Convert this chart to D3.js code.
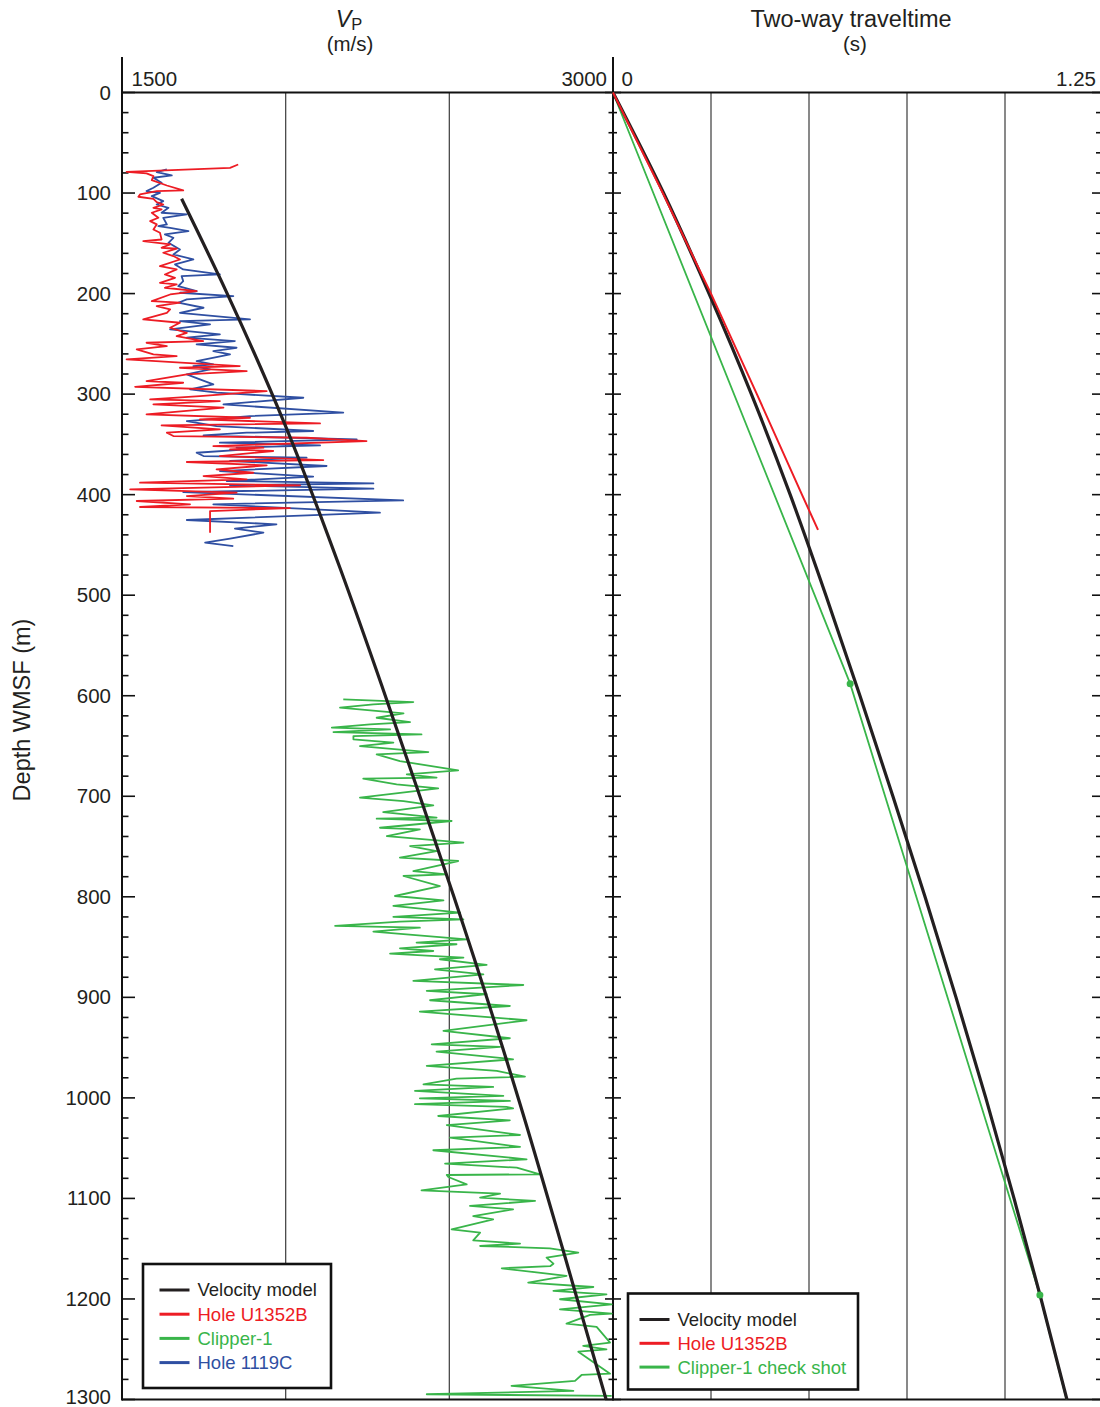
<!DOCTYPE html>
<html>
<head>
<meta charset="utf-8">
<script src="https://cdn.jsdelivr.net/npm/d3@7"></script>
<style>
  html, body { margin: 0; padding: 0; background: #fff; }
  svg { display: block; font-family: "Liberation Sans", Arial, Helvetica, sans-serif; }
</style>
</head>
<body>
<svg id="chart" width="1100" height="1407"></svg>
<script>
// ---- Data: depth (m WMSF) paired with P-wave velocity (m/s) ----
const velocityModel = [
  [105.7, 1682], [199, 1820], [332, 2000], [473, 2166], [594, 2298],
  [700, 2410], [800, 2514], [1006, 2716], [1152, 2848], [1300, 2979]
];

const holeU1352B = [
  [71.6, 1855], [74.9, 1830], [78.9, 1514], [80.5, 1575], [83.2, 1596], [87.2, 1591],
  [92.5, 1637], [97.4, 1687], [98.1, 1606], [101.4, 1555], [103.7, 1550], [105.7, 1596],
  [109.0, 1606], [111.4, 1626], [114.7, 1596], [116.3, 1621], [119.6, 1591], [124.6, 1611],
  [127.9, 1586], [131.2, 1606], [136.2, 1596], [139.5, 1616], [146.2, 1621], [147.8, 1565],
  [151.1, 1647], [154.4, 1621], [155.4, 1667], [159.4, 1626], [162.7, 1657], [166.1, 1677],
  [172.7, 1616], [176.0, 1667], [181.0, 1631], [184.3, 1662], [189.3, 1616], [190.9, 1667],
  [194.2, 1631], [197.5, 1728], [200.9, 1647], [207.5, 1591], [209.1, 1677], [212.5, 1606],
  [215.8, 1647], [219.1, 1637], [225.7, 1565], [229.0, 1677], [234.0, 1647], [239.0, 1698],
  [242.3, 1667], [247.2, 1748], [248.9, 1575], [252.2, 1637], [255.5, 1545], [260.5, 1596],
  [262.2, 1667], [265.5, 1514], [272.1, 1860], [273.8, 1677], [277.1, 1881], [280.4, 1698],
  [287.0, 1575], [288.7, 1687], [292.7, 1540], [297.0, 1942], [302.0, 1738], [305.3, 1586],
  [306.9, 1799], [310.2, 1596], [313.5, 1810], [320.2, 1575], [323.5, 1891], [325.1, 1738],
  [329.1, 2105], [331.1, 1621], [335.1, 1799], [338.4, 1637], [341.7, 1657], [343.4, 2064],
  [346.7, 2247], [351.7, 1779], [353.3, 1932], [355.0, 1830], [356.6, 1962], [361.6, 1799],
  [365.6, 2115], [367.5, 1698], [370.9, 1942], [374.8, 1789], [378.2, 1901], [381.5, 1749],
  [384.8, 1881], [388.1, 1555], [390.7, 2044], [394.7, 1525], [398.0, 1850], [401.4, 1698],
  [404.0, 1840], [406.3, 1545], [409.6, 1708], [412.3, 1555], [413.3, 2013], [416.3, 1769],
  [437.8, 1769]
];

const hole1119C = [
  [76.5, 1637], [79.2, 1606], [82.5, 1652], [84.8, 1596], [89.8, 1621], [94.8, 1596],
  [98.1, 1575], [99.8, 1616], [103.1, 1591], [108.0, 1626], [111.4, 1606], [114.7, 1642],
  [119.6, 1621], [121.3, 1698], [124.6, 1626], [131.2, 1637], [132.9, 1611], [134.6, 1647],
  [137.9, 1703], [141.2, 1631], [144.5, 1657], [149.5, 1642], [156.1, 1677], [161.1, 1657],
  [166.1, 1718], [171.0, 1662], [176.0, 1687], [181.0, 1799], [182.6, 1682], [187.6, 1687],
  [192.6, 1672], [197.5, 1728], [199.2, 1677], [202.5, 1840], [205.8, 1698], [209.1, 1672],
  [214.1, 1749], [219.1, 1677], [225.7, 1891], [227.4, 1677], [230.7, 1769], [235.6, 1647],
  [240.6, 1799], [243.9, 1698], [247.2, 1845], [250.5, 1728], [253.9, 1850], [257.2, 1779],
  [260.5, 1830], [267.1, 1728], [270.4, 1779], [272.1, 1718], [275.4, 1769], [280.4, 1698],
  [285.4, 1738], [290.3, 1779], [295.3, 1708], [298.6, 1789], [303.6, 2054], [310.2, 1810],
  [318.5, 2176], [321.8, 1891], [326.8, 1698], [331.8, 1789], [336.7, 2084], [338.4, 1881],
  [341.1, 1749], [345.0, 2217], [348.3, 1799], [351.0, 2105], [353.3, 1850], [355.0, 1881],
  [358.3, 1728], [361.6, 1749], [363.2, 2064], [366.5, 1830], [371.5, 2125], [376.5, 1799],
  [382.1, 2084], [386.4, 1820], [388.8, 2268], [390.7, 1830], [394.1, 2268], [397.4, 1687],
  [405.7, 2359], [409.6, 1779], [417.9, 2288], [425.2, 1698], [429.5, 1972], [433.8, 1845],
  [437.8, 1932], [443.8, 1830], [447.8, 1754], [451.1, 1840]
];

const clipper1 = [
  [603.6, 2176], [606.3, 2390], [608.6, 2268], [611.9, 2166], [617.6, 2360], [621.9, 2278],
  [626.2, 2380], [628.5, 2258], [631.8, 2141], [633.5, 2319], [636.1, 2146], [638.5, 2415],
  [640.1, 2207], [643.4, 2207], [646.7, 2329], [650.1, 2227], [656.0, 2436], [658.3, 2278],
  [665.0, 2349], [674.3, 2527], [678.2, 2370], [681.5, 2461], [682.5, 2237], [688.2, 2339],
  [692.1, 2466], [701.4, 2227], [704.8, 2360], [709.1, 2451], [715.7, 2298], [721.3, 2461],
  [722.3, 2278], [724.6, 2507], [731.3, 2288], [732.9, 2410], [739.6, 2309], [746.2, 2543],
  [749.5, 2380], [754.5, 2461], [761.1, 2349], [764.4, 2527], [774.4, 2390], [777.7, 2492],
  [779.3, 2360], [789.3, 2471], [799.2, 2334], [803.5, 2482], [809.1, 2329], [815.7, 2533],
  [820.0, 2329], [822.4, 2543], [824.7, 2349], [829.0, 2151], [830.7, 2410], [834.6, 2268],
  [842.3, 2553], [845.6, 2400], [847.2, 2522], [851.2, 2349], [853.9, 2451], [856.5, 2319],
  [860.5, 2543], [862.1, 2471], [867.8, 2614], [872.1, 2456], [877.1, 2604], [883.7, 2390],
  [887.7, 2726], [893.6, 2431], [896.9, 2614], [902.9, 2441], [908.6, 2685], [914.2, 2410],
  [922.8, 2736], [933.4, 2482], [940.7, 2685], [946.7, 2446], [949.3, 2655], [954.0, 2461],
  [961.6, 2695], [968.2, 2431], [973.2, 2645], [978.9, 2731], [980.8, 2522], [986.5, 2421],
  [989.1, 2634], [993.1, 2395], [998.1, 2665], [1000.4, 2410], [1003.0, 2685], [1006.3, 2395],
  [1009.0, 2675], [1010.4, 2695], [1018.0, 2466], [1022.3, 2685], [1027.0, 2492], [1036.9, 2716],
  [1039.6, 2502], [1048.8, 2716], [1052.1, 2451], [1061.1, 2736], [1065.4, 2487], [1069.4, 2706],
  [1076.0, 2777], [1076.7, 2492], [1078.7, 2497], [1086.0, 2553], [1091.9, 2415], [1095.2, 2655],
  [1099.2, 2594], [1102.5, 2762], [1107.5, 2563], [1110.8, 2695], [1117.5, 2573], [1120.8, 2634],
  [1130.7, 2507], [1134.0, 2594], [1141.7, 2573], [1145.0, 2716], [1147.3, 2594], [1149.6, 2807],
  [1153.9, 2894], [1158.9, 2797], [1164.9, 2818], [1167.4, 2808], [1169.5, 2660], [1177.1, 2858],
  [1183.8, 2741], [1188.1, 2940], [1192.0, 2818], [1195.4, 2980], [1200.3, 2838], [1205.3, 2996],
  [1210.3, 2838], [1214.6, 2996], [1215.9, 2930], [1224.5, 2858], [1227.8, 2950], [1243.4, 2991],
  [1246.7, 2909], [1250.1, 2980], [1252.4, 2894], [1274.3, 2991], [1275.6, 2904], [1281.5, 2884],
  [1286.5, 2690], [1291.5, 2879], [1294.8, 2431], [1296.4, 2996]
];

// ---- Data: depth (m WMSF) paired with two-way traveltime (s) ----
const twtVelocityModel = [
  [0, 0], [100, 0.129], [200, 0.245], [300, 0.353], [400, 0.452], [500, 0.543],
  [600, 0.630], [700, 0.714], [800, 0.796], [900, 0.875], [1000, 0.951],
  [1100, 1.023], [1200, 1.092], [1300, 1.158]
];
const twtHoleU1352B = [
  [0, 0], [100, 0.127], [180, 0.225], [200, 0.250], [300, 0.367], [400, 0.482], [435, 0.523]
];
const twtClipperCheckShot = [
  [0, 0], [588, 0.605], [1196, 1.089], [1300, 1.157]
];
const checkShotPoints = [[588, 0.605], [1196, 1.089]];

// ---- Axis tick values ----
const depthTicks = d3.range(0, 1301, 100);
const depthMinorTicks = d3.range(0, 1301, 20);
const vpGrid = [2000, 2500];
const twtGrid = [0.25, 0.5, 0.75, 1.0];

const legendLeft = [
  { label: "Velocity model", color: "#231f20" },
  { label: "Hole U1352B", color: "#ed1c24" },
  { label: "Clipper-1", color: "#39b54a" },
  { label: "Hole 1119C", color: "#2f4fa2" }
];
const legendRight = [
  { label: "Velocity model", color: "#231f20" },
  { label: "Hole U1352B", color: "#ed1c24" },
  { label: "Clipper-1 check shot", color: "#39b54a" }
];

const COLORS = { black: "#231f20", red: "#ed1c24", green: "#39b54a", blue: "#2f4fa2", grid: "#4a4a4a" };

// ---- Scales ----
const plotTop = 92.5, plotBottom = 1399.5;
const y = d3.scaleLinear().domain([0, 1300]).range([plotTop, plotBottom]);
const xV = d3.scaleLinear().domain([1500, 3000]).range([122, 613]);
const xT = d3.scaleLinear().domain([0, 1.25]).range([613, 1103]);

const svg = d3.select("#chart");

const defs = svg.append("defs");
defs.append("clipPath").attr("id", "clipV")
  .append("rect").attr("x", xV(1500)).attr("y", plotTop - 30)
  .attr("width", xV(3000) - xV(1500) + 1).attr("height", plotBottom - plotTop + 31);
defs.append("clipPath").attr("id", "clipT")
  .append("rect").attr("x", xT(0) - 1).attr("y", plotTop - 30)
  .attr("width", xT(1.25) - xT(0)).attr("height", plotBottom - plotTop + 31);

// ---- Grid lines ----
const grid = svg.append("g").attr("stroke", COLORS.grid).attr("stroke-width", 1.3);
grid.selectAll("line.gv").data(vpGrid).join("line").attr("class", "gv")
  .attr("x1", d => xV(d)).attr("x2", d => xV(d)).attr("y1", plotTop).attr("y2", plotBottom);
grid.selectAll("line.gt").data(twtGrid).join("line").attr("class", "gt")
  .attr("x1", d => xT(d)).attr("x2", d => xT(d)).attr("y1", plotTop).attr("y2", plotBottom);

// ---- Frame lines ----
const frame = svg.append("g").attr("stroke", "#111").attr("stroke-width", 2).attr("fill", "none");
frame.append("line").attr("x1", xV(1500)).attr("x2", 1100).attr("y1", y(0)).attr("y2", y(0));
frame.append("line").attr("x1", xV(1500)).attr("x2", 1100).attr("y1", y(1300)).attr("y2", y(1300));
frame.append("line").attr("x1", xV(1500)).attr("x2", xV(1500)).attr("y1", 57).attr("y2", y(1300) + 1);
frame.append("line").attr("x1", xT(0)).attr("x2", xT(0)).attr("y1", 57).attr("y2", y(1300) + 1);

// ---- Depth ticks: left axis inward, middle axis crossing, right edge inward ----
const ticks = svg.append("g").attr("stroke", "#111").attr("stroke-width", 1.6);
depthMinorTicks.forEach(d => {
  const major = d % 100 === 0;
  const yy = y(d);
  ticks.append("line").attr("x1", xV(1500)).attr("x2", xV(1500) + (major ? 13 : 6.5)).attr("y1", yy).attr("y2", yy);
  ticks.append("line").attr("x1", xT(0) - (major ? 8 : 4.5)).attr("x2", xT(0) + (major ? 8 : 4)).attr("y1", yy).attr("y2", yy);
  ticks.append("line").attr("x1", 1100 - (major ? 8 : 4)).attr("x2", 1100).attr("y1", yy).attr("y2", yy);
});

// ---- Depth labels ----
const yAxis = d3.axisLeft(y).tickValues(depthTicks).tickFormat(d3.format("d")).tickSize(0).tickPadding(11);
const yAxisG = svg.append("g").attr("transform", `translate(${xV(1500)},0)`).call(yAxis);
yAxisG.select(".domain").remove();
yAxisG.selectAll("text").attr("font-size", 20.5).attr("fill", "#231f20")
  .attr("font-family", "'Liberation Sans', Arial, sans-serif");
// keep the deepest label inside the page
yAxisG.selectAll(".tick").filter(d => d === 1300).select("text").attr("dy", "0.2em");

svg.append("text")
  .attr("transform", `translate(30,710) rotate(-90)`)
  .attr("text-anchor", "middle").attr("font-size", 23.5).attr("fill", "#231f20")
  .text("Depth WMSF (m)");

// ---- Top scale end labels ----
const topLabels = svg.append("g").attr("font-size", 20.5).attr("fill", "#231f20");
topLabels.append("text").attr("x", xV(1500) + 9.5).attr("y", 86).text(xV.domain()[0]);
topLabels.append("text").attr("x", xV(3000) - 6).attr("y", 86).attr("text-anchor", "end").text(xV.domain()[1]);
topLabels.append("text").attr("x", xT(0) + 8.5).attr("y", 86).text(xT.domain()[0]);
topLabels.append("text").attr("x", 1096).attr("y", 86).attr("text-anchor", "end").text(xT.domain()[1].toFixed(2));

// ---- Panel titles ----
const vTitle = svg.append("text").attr("x", 349).attr("y", 27).attr("text-anchor", "middle")
  .attr("font-size", 23.5).attr("fill", "#231f20");
vTitle.append("tspan").attr("font-style", "italic").text("V");
vTitle.append("tspan").attr("font-size", 16.5).attr("dy", 3).text("P");
svg.append("text").attr("x", 350).attr("y", 51).attr("text-anchor", "middle")
  .attr("font-size", 20.5).attr("fill", "#231f20").text("(m/s)");
svg.append("text").attr("x", 851).attr("y", 27).attr("text-anchor", "middle")
  .attr("font-size", 23.5).attr("fill", "#231f20").text("Two-way traveltime");
svg.append("text").attr("x", 855).attr("y", 51).attr("text-anchor", "middle")
  .attr("font-size", 20.5).attr("fill", "#231f20").text("(s)");

// ---- Velocity panel curves ----
const lineV = d3.line().x(d => xV(d[1])).y(d => y(d[0]));
const gV = svg.append("g").attr("clip-path", "url(#clipV)").attr("fill", "none")
  .attr("stroke-linejoin", "round");
gV.append("path").datum(hole1119C).attr("d", lineV).attr("stroke", COLORS.blue).attr("stroke-width", 1.8);
gV.append("path").datum(holeU1352B).attr("d", lineV).attr("stroke", COLORS.red).attr("stroke-width", 1.8);
gV.append("path").datum(clipper1).attr("d", lineV).attr("stroke", COLORS.green).attr("stroke-width", 1.8);
gV.append("path").datum(velocityModel).attr("d", lineV.curve(d3.curveMonotoneY))
  .attr("stroke", COLORS.black).attr("stroke-width", 3.2);

// ---- Traveltime panel curves ----
const lineT = d3.line().x(d => xT(d[1])).y(d => y(d[0]));
const smoothT = d3.line().x(d => xT(d[1])).y(d => y(d[0])).curve(d3.curveMonotoneY);
const gT = svg.append("g").attr("clip-path", "url(#clipT)").attr("fill", "none");
gT.append("path").datum(twtClipperCheckShot).attr("d", lineT).attr("stroke", COLORS.green).attr("stroke-width", 1.8);
gT.append("path").datum(twtVelocityModel).attr("d", smoothT)
  .attr("stroke", COLORS.black).attr("stroke-width", 3.2);
gT.append("path").datum(twtHoleU1352B).attr("d", lineT)
  .attr("stroke", COLORS.red).attr("stroke-width", 2);
svg.append("g").selectAll("circle").data(checkShotPoints).join("circle")
  .attr("cx", d => xT(d[1])).attr("cy", d => y(d[0])).attr("r", 3.5).attr("fill", COLORS.green);

// ---- Legends ----
function legend(items, box, lineX, textX, firstY, step) {
  const g = svg.append("g");
  g.append("rect").attr("x", box.x).attr("y", box.y).attr("width", box.w).attr("height", box.h)
    .attr("fill", "#fff").attr("stroke", "#111").attr("stroke-width", 2.6);
  items.forEach((it, i) => {
    const yy = firstY + i * step;
    g.append("line").attr("x1", lineX).attr("x2", lineX + 30).attr("y1", yy).attr("y2", yy)
      .attr("stroke", it.color).attr("stroke-width", 3);
    g.append("text").attr("x", textX).attr("y", yy).attr("dy", "0.35em")
      .attr("font-size", 18.5).attr("fill", it.color).text(it.label);
  });
}
legend(legendLeft, { x: 143, y: 1264, w: 188, h: 124 }, 159.5, 197.5, 1290, 24.2);
legend(legendRight, { x: 628, y: 1293.5, w: 230, h: 96 }, 639.5, 677.5, 1319.5, 23.8);
</script>
</body>
</html>
